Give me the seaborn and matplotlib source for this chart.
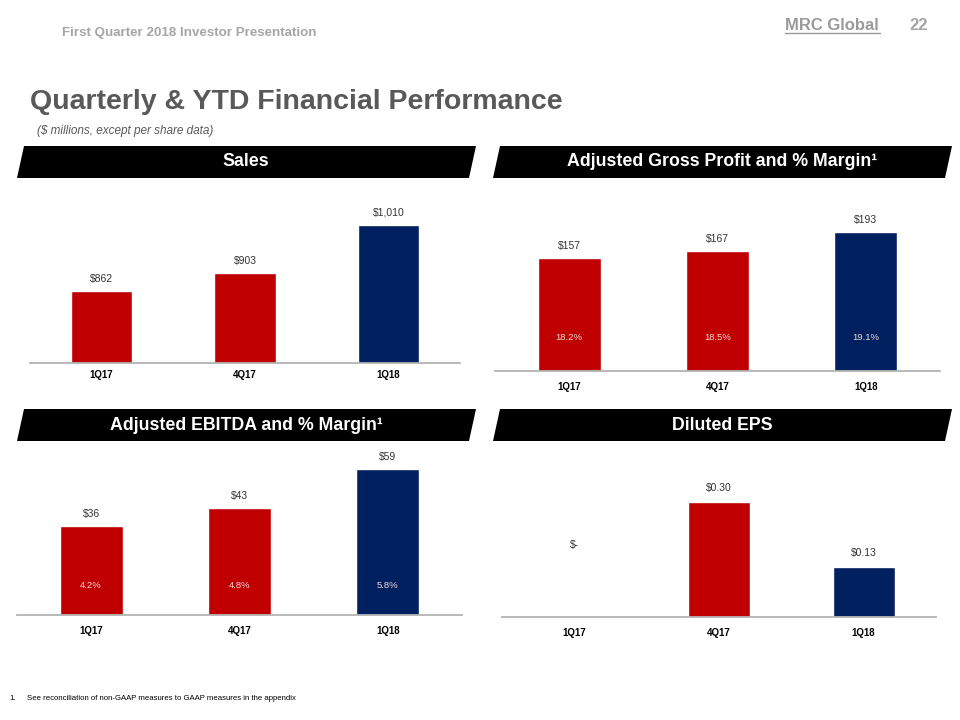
"""
MRC Global 1Q18 investor slide - quarterly & YTD financial performance
"""

import numpy as np
import pandas as pd
import seaborn as sns
import matplotlib.pyplot as plt
from matplotlib.patches import Polygon

quarters = ["1Q17", "4Q17", "1Q18"]

sales = [862, 903, 1010]
sales_labels = ["$862", "$903", "$1,010"]

gross_profit = [157, 167, 193]
gross_profit_labels = ["$157", "$167", "$193"]
gross_margin = ["18.2%", "18.5%", "19.1%"]

ebitda = [36, 43, 59]
ebitda_labels = ["$36", "$43", "$59"]
ebitda_margin = ["4.2%", "4.8%", "5.8%"]

eps = [0.00, 0.30, 0.13]
eps_labels = ["$-", "$0.30", "$0.13"]

RED = "#c00000"
NAVY = "#002060"
bar_colors = [RED, RED, NAVY]

sns.set_theme(style="white")
plt.rcParams["font.family"] = ["Liberation Sans", "DejaVu Sans"]

W, H = 960, 720
fig = plt.figure(figsize=(W / 100, H / 100), dpi=100)

VAL_SIZE = 7.5
TICK_SIZE = 7


def px_rect(x0, x1, y_top, y_base):
    # convert pixel box to figure fraction rect
    return [x0 / W, (H - y_base) / H, (x1 - x0) / W, (y_base - y_top) / H]


def style_axis(ax, pad):
    ax.set_xlabel("")
    ax.set_ylabel("")
    ax.set_yticks([])
    for s in ["top", "right", "left"]:
        ax.spines[s].set_visible(False)
    ax.spines["bottom"].set_color("#b3b3b3")
    ax.spines["bottom"].set_linewidth(1.3)
    ax.tick_params(axis="x", which="major", length=0, pad=pad,
                   labelsize=TICK_SIZE, colors="black")
    for t in ax.get_xticklabels():
        t.set_fontweight("bold")
    ax.patch.set_alpha(0)


def bar_panel(rect, values, labels, ylim, bar_width, pad=5):
    ax = fig.add_axes(rect)
    df = pd.DataFrame({"quarter": quarters, "value": values})
    sns.barplot(data=df, x="quarter", y="value", hue="quarter",
                palette=bar_colors, width=bar_width, legend=False,
                saturation=1, ax=ax)
    ax.set_ylim(*ylim)
    ax.set_xlim(-0.5, len(quarters) - 0.5)
    style_axis(ax, pad)
    for cont, lab in zip(ax.containers, labels):
        ax.bar_label(cont, labels=[lab], padding=5, fontsize=VAL_SIZE, color="#333333")
    return ax


def margin_labels(ax, texts, offset):
    for i, t in enumerate(texts):
        ax.annotate(t, xy=(i, ax.get_ylim()[0]), xytext=(0, offset),
                    textcoords="offset points", ha="center", va="center",
                    fontsize=6.8, color="#f4dada")


ax1 = bar_panel(px_rect(30, 460, 195, 363), sales, sales_labels, (700, 1077), 0.43, pad=5)
ax2 = bar_panel(px_rect(495, 940, 200, 371), gross_profit, gross_profit_labels, (0, 237), 0.425, pad=8)
margin_labels(ax2, gross_margin, 24)
ax3 = bar_panel(px_rect(17, 462, 450, 615), ebitda, ebitda_labels, (0, 66.5), 0.425, pad=8)
margin_labels(ax3, ebitda_margin, 21)

# diluted EPS: zero bar gets its label floated above the axis
ax4 = fig.add_axes(px_rect(502, 936, 455, 617))
df = pd.DataFrame({"quarter": quarters, "value": eps})
sns.barplot(data=df, x="quarter", y="value", hue="quarter", palette=bar_colors,
            width=0.43, legend=False, saturation=1, ax=ax4)
ax4.set_ylim(0, 0.424)
ax4.set_xlim(-0.5, 2.5)
style_axis(ax4, 8)
ax4.set_xticks(np.arange(-0.5, 3, 1), minor=True)
ax4.tick_params(axis="x", which="minor", length=4, width=1, color="#b3b3b3", direction="out")
for i, (cont, lab) in enumerate(zip(ax4.containers, eps_labels)):
    if eps[i] == 0:
        ax4.annotate(lab, xy=(i, 0), xytext=(0, 52), textcoords="offset points",
                     ha="center", va="center", fontsize=VAL_SIZE, color="#333333")
    else:
        ax4.bar_label(cont, labels=[lab], padding=7, fontsize=VAL_SIZE, color="#333333")

# black slanted banners
banners = [
    ("Sales", 17, 146),
    ("Adjusted Gross Profit and % Margin¹", 493, 146),
    ("Adjusted EBITDA and % Margin¹", 17, 409),
    ("Diluted EPS", 493, 409),
]
for text, x0, y0 in banners:
    pts = [(x0 + 7, y0), (x0 + 459, y0), (x0 + 452, y0 + 32), (x0, y0 + 32)]
    pts = [(x / W, 1 - y / H) for x, y in pts]
    fig.add_artist(Polygon(pts, closed=True, transform=fig.transFigure,
                           facecolor="black", edgecolor="none"))
    fig.text((x0 + 229) / W, 1 - (y0 + 16) / H, text, ha="center", va="center",
             color="white", fontsize=12.8, fontweight="bold")

# header and titles
fig.text(62 / W, 1 - 33 / H, "First Quarter 2018 Investor Presentation",
         ha="left", va="center", color="#a6a6a6", fontsize=9.6,
         fontweight="bold")
fig.text(785 / W, 1 - 25 / H, "MRC Global", ha="left", va="center",
         color="#9a9a9a", fontsize=12, fontweight="bold")
fig.add_artist(plt.Line2D([785 / W, 880 / W], [1 - 33 / H, 1 - 33 / H],
                          color="#9a9a9a", lw=1, transform=fig.transFigure))
fig.text(928 / W, 1 - 26 / H, "22", ha="right", va="center",
         color="#a6a6a6", fontsize=12, fontweight="bold")
fig.text(30 / W, 1 - 102 / H, "Quarterly & YTD Financial Performance",
         ha="left", va="center", color="#595959", fontsize=20.5,
         fontweight="bold")
fig.text(37 / W, 1 - 131 / H, "($ millions, except per share data)",
         ha="left", va="center", color="#595959", fontsize=8.5, style="italic")
fig.text(9 / W, 1 - 698 / H, "1.", ha="left", va="center",
         color="black", fontsize=5.8)
fig.text(27 / W, 1 - 698 / H,
         "See reconciliation of non-GAAP measures to GAAP measures in the appendix",
         ha="left", va="center", color="black", fontsize=5.6)

fig.savefig("out.png", dpi=100)
